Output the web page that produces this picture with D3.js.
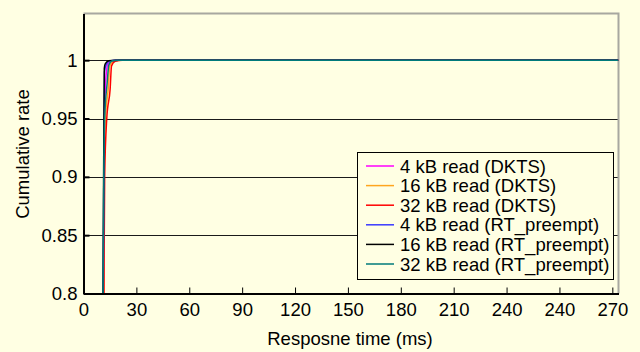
<!DOCTYPE html>
<html>
<head>
<meta charset="utf-8">
<script src="https://cdn.jsdelivr.net/npm/d3@7"></script>
<style>
body { margin: 0; background: #ffffe3; }
svg { display: block; font-family: "Liberation Sans", Arial, sans-serif; }
</style>
</head>
<body>
<svg width="640" height="352"></svg>
<script>
// tick values and the labels as printed (the original repeats 240)
var xTicks = [0, 30, 60, 90, 120, 150, 180, 210, 240, 270, 300];
var xTickLabels = ["0", "30", "60", "90", "120", "150", "180", "210", "240", "240", "270"];
var yTicks = [0.8, 0.85, 0.9, 0.95, 1];

var seriesNames = ["4 kB read (DKTS)", "16 kB read (DKTS)", "32 kB read (DKTS)",
  "4 kB read (RT_preempt)", "16 kB read (RT_preempt)", "32 kB read (RT_preempt)"];
var seriesColors = ["#ff00ff", "#ffa51f", "#ff0000", "#3a3aff", "#000000", "#007b7b"];

// response time (ms) / cumulative rate
var dkts4 = [[11.0, 0.7], [11.3, 0.8], [11.6, 0.9], [12.0, 0.95], [12.7, 0.985], [13.9, 0.997], [16.5, 0.9995], [20, 1], [303.5, 1]];
var dkts16 = [[11.1, 0.7], [11.4, 0.8], [11.7, 0.9], [12.4, 0.95], [14.0, 0.975], [14.9, 0.995], [17.5, 0.9995], [21, 1], [303.5, 1]];
var dkts32 = [[11.3, 0.7], [11.6, 0.8], [12.0, 0.9], [13.2, 0.95], [15.1, 0.975], [15.9, 0.995], [18, 0.999], [22, 1], [303.5, 1]];
var rt4 = [[10.9, 0.7], [11.2, 0.8], [11.5, 0.9], [11.7, 0.95], [11.9, 0.99], [12.9, 0.996], [14.4, 0.999], [18, 1], [303.5, 1]];
var rt16 = [[10.8, 0.7], [11.1, 0.8], [11.4, 0.9], [11.6, 0.95], [11.8, 0.993], [12.4, 0.997], [14.4, 0.9995], [18, 1], [303.5, 1]];
var rt32 = [[10.8, 0.7], [11.1, 0.8], [11.5, 0.9], [12.0, 0.95], [13.4, 0.98], [14.4, 0.996], [16.4, 0.9995], [20, 1], [303.5, 1]];
var seriesData = [dkts4, dkts16, dkts32, rt4, rt16, rt32];

var svg = d3.select("svg");
var fontSize = 18.5;
var pLeft = 83.5, pRight = 618.5, pTop = 13.5, pBottom = 293.5;

var x = d3.scaleLinear().domain([0, 303.5]).range([pLeft, pRight]);
var y = d3.scaleLinear().domain([0.8, 1.04]).range([pBottom, pTop]);

svg.append("defs").append("clipPath").attr("id", "clip")
  .append("rect").attr("x", pLeft).attr("y", pTop).attr("width", pRight - pLeft).attr("height", pBottom - pTop);

// horizontal grid lines
svg.append("g").selectAll("line")
  .data(yTicks.slice(1))
  .enter().append("line")
  .attr("x1", pLeft).attr("x2", pRight)
  .attr("y1", function (d) { return Math.round(y(d)) + 0.5; })
  .attr("y2", function (d) { return Math.round(y(d)) + 0.5; })
  .attr("stroke", "#1a1a1a").attr("stroke-width", 1);

// top and right frame
svg.append("path")
  .attr("d", "M" + pLeft + "," + pTop + "H" + pRight + "V" + pBottom)
  .attr("fill", "none").attr("stroke", "#a8a8a0").attr("stroke-width", 2);

var line = d3.line()
  .x(function (d) { return x(d[0]); })
  .y(function (d) { return y(d[1]); })
  .curve(d3.curveMonotoneX);

svg.append("g").attr("clip-path", "url(#clip)")
  .selectAll("path")
  .data(seriesData)
  .enter().append("path")
  .attr("d", line)
  .attr("fill", "none")
  .attr("stroke", function (d, i) { return seriesColors[i]; })
  .attr("stroke-width", 1.5);

// x axis
var xAxis = svg.append("g")
  .attr("transform", "translate(0," + pBottom + ")")
  .call(d3.axisBottom(x).tickValues(xTicks)
    .tickFormat(function (d, i) { return xTickLabels[i]; })
    .tickSizeInner(-6).tickSizeOuter(0).tickPadding(9));
xAxis.select(".domain").attr("stroke", "#000").attr("stroke-width", 2);
xAxis.selectAll(".tick line").attr("stroke", "#000");
xAxis.selectAll("text").attr("font-size", fontSize).attr("fill", "#000").attr("font-family", "Liberation Sans, Arial, sans-serif");

// y axis
var yAxis = svg.append("g")
  .attr("transform", "translate(" + pLeft + ",0)")
  .call(d3.axisLeft(y).tickValues(yTicks)
    .tickFormat(function (d) { return String(+d.toFixed(2)); })
    .tickSizeInner(-6).tickSizeOuter(0).tickPadding(6));
yAxis.select(".domain").attr("stroke", "#000").attr("stroke-width", 2);
yAxis.selectAll(".tick line").attr("stroke", "#000").attr("stroke-width", 2);
yAxis.selectAll("text").attr("font-size", fontSize).attr("fill", "#000").attr("font-family", "Liberation Sans, Arial, sans-serif");

// axis titles
svg.append("text")
  .attr("x", 350).attr("y", 345)
  .attr("text-anchor", "middle").attr("font-size", fontSize)
  .text("Resposne time (ms)");

svg.append("text")
  .attr("transform", "translate(29,154) rotate(-90)")
  .attr("text-anchor", "middle").attr("font-size", fontSize)
  .text("Cumulative rate");

// legend
var legend = svg.append("g");
legend.append("rect")
  .attr("x", 357.5).attr("y", 152.5).attr("width", 256).attr("height", 127)
  .attr("fill", "#ffffe3").attr("stroke", "#000").attr("stroke-width", 1);

var items = legend.selectAll(".item")
  .data(seriesNames)
  .enter().append("g")
  .attr("transform", function (d, i) { return "translate(0," + (166 + i * 19.6) + ")"; });
items.append("line")
  .attr("x1", 366).attr("x2", 394).attr("y1", 0).attr("y2", 0)
  .attr("stroke", function (d, i) { return seriesColors[i]; })
  .attr("stroke-width", 1.5);
items.append("text")
  .attr("x", 400).attr("y", 6.5)
  .attr("font-size", fontSize)
  .text(function (d) { return d; });
</script>
</body>
</html>
